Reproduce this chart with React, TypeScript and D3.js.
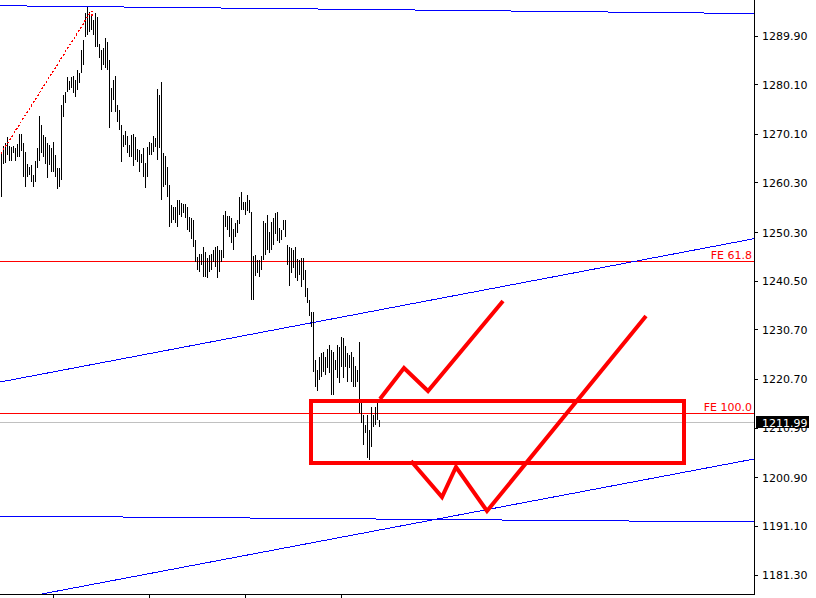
import React from "react";
import * as d3 from "d3";

// ---- data ----
const highs = [
  1266.5, 1267.7, 1268.3, 1269.5, 1267.7, 1267.5, 1267.7, 1267.3, 1268.1, 1270.2,
  1270.2, 1268.3, 1266.5, 1264.1, 1263.5, 1263.9, 1261.9, 1264.7, 1267.3, 1273.8,
  1272.0, 1270.0, 1269.5, 1268.3, 1267.9, 1267.3, 1268.5, 1265.9, 1263.3, 1263.3,
  1276.0, 1278.0, 1278.6, 1281.6, 1280.8, 1281.6, 1281.8, 1281.0, 1283.0, 1282.4,
  1287.1, 1289.1, 1294.5, 1295.7, 1294.7, 1294.1, 1293.1, 1294.5, 1293.7, 1288.3,
  1287.1, 1287.5, 1289.5, 1288.7, 1285.1, 1279.4, 1281.0, 1281.8, 1276.0, 1275.0,
  1272.0, 1270.0, 1270.8, 1269.7, 1267.9, 1270.0, 1270.2, 1269.5, 1267.1, 1266.9,
  1266.1, 1267.3, 1264.3, 1267.5, 1268.5, 1268.3, 1269.7, 1269.3, 1279.2, 1278.0,
  1280.6, 1266.3, 1265.7, 1263.5, 1259.9, 1255.8, 1255.4, 1255.4, 1256.9, 1256.9,
  1256.2, 1256.0, 1256.0, 1255.4, 1253.4, 1253.2, 1252.8, 1248.8, 1245.4, 1246.0,
  1246.0, 1247.4, 1246.4, 1245.2, 1245.8, 1246.0, 1246.8, 1247.4, 1247.6, 1246.8,
  1246.8, 1253.8, 1254.6, 1253.6, 1253.6, 1253.2, 1251.0, 1252.2, 1252.8, 1257.5,
  1258.5, 1256.4, 1256.4, 1257.9, 1256.9, 1254.4, 1245.6, 1245.8, 1244.8, 1244.8,
  1245.6, 1252.6, 1252.2, 1253.8, 1250.4, 1252.4, 1253.2, 1254.2, 1254.4, 1251.2,
  1250.8, 1252.8, 1252.8, 1247.8, 1247.4, 1247.2, 1246.8, 1247.4, 1245.0, 1244.8,
  1245.2, 1245.2, 1242.7, 1239.1, 1236.7, 1234.3, 1234.3, 1224.6, 1222.6, 1225.2,
  1226.0, 1226.2, 1225.2, 1226.8, 1227.6, 1226.6, 1226.2, 1224.6, 1227.6, 1227.2,
  1229.2, 1229.0, 1227.4, 1226.0, 1225.6, 1226.2, 1225.2, 1223.4, 1222.6, 1228.2,
  1215.9, 1213.5, 1211.5, 1213.5, 1210.5, 1215.1, 1213.5, 1215.1, 1215.9, 1212.5,
];
const lows = [
  1257.5, 1264.1, 1264.3, 1265.9, 1264.7, 1264.7, 1266.3, 1264.7, 1265.5, 1265.5,
  1266.7, 1261.5, 1259.5, 1261.5, 1261.9, 1260.5, 1259.5, 1260.5, 1263.3, 1264.7,
  1266.3, 1265.5, 1264.1, 1261.3, 1263.9, 1262.5, 1262.5, 1261.5, 1259.1, 1259.5,
  1260.9, 1273.6, 1276.4, 1278.6, 1279.0, 1279.4, 1278.4, 1277.6, 1279.0, 1280.4,
  1282.4, 1284.1, 1289.7, 1290.1, 1290.7, 1291.1, 1290.1, 1287.7, 1287.7, 1285.5,
  1283.0, 1284.1, 1283.5, 1283.0, 1271.4, 1274.6, 1277.0, 1274.6, 1272.6, 1271.0,
  1264.5, 1267.5, 1267.9, 1266.3, 1265.5, 1265.5, 1263.7, 1264.9, 1264.5, 1262.5,
  1264.3, 1261.5, 1259.3, 1261.5, 1265.9, 1265.9, 1266.5, 1267.5, 1264.9, 1267.3,
  1256.9, 1259.5, 1259.9, 1257.5, 1251.4, 1252.2, 1252.8, 1252.2, 1251.4, 1253.8,
  1253.4, 1254.2, 1253.2, 1250.8, 1250.4, 1249.0, 1247.4, 1244.4, 1242.7, 1242.3,
  1243.7, 1241.3, 1241.3, 1241.1, 1242.3, 1242.7, 1244.4, 1243.3, 1241.1, 1242.3,
  1244.4, 1245.2, 1251.4, 1250.8, 1249.4, 1248.2, 1246.8, 1249.4, 1250.2, 1252.0,
  1254.8, 1254.8, 1253.8, 1254.6, 1254.2, 1236.7, 1236.7, 1241.5, 1242.1, 1241.3,
  1242.7, 1244.8, 1245.8, 1246.8, 1246.2, 1246.8, 1247.8, 1250.0, 1248.6, 1248.2,
  1248.8, 1250.8, 1249.4, 1243.7, 1239.5, 1242.1, 1243.1, 1241.1, 1240.5, 1241.7,
  1239.3, 1240.7, 1237.3, 1236.1, 1233.5, 1231.3, 1222.2, 1219.2, 1218.4, 1220.6,
  1221.2, 1222.2, 1221.6, 1223.0, 1222.0, 1217.6, 1217.6, 1222.6, 1221.0, 1220.0,
  1223.2, 1221.0, 1223.2, 1220.2, 1223.0, 1220.2, 1219.2, 1219.2, 1220.2, 1213.9,
  1211.9, 1207.5, 1209.9, 1204.9, 1204.5, 1207.1, 1211.1, 1211.5, 1212.5, 1211.1,
];

const priceTicks = [1289.9, 1280.1, 1270.1, 1260.3, 1250.3, 1240.5, 1230.7, 1220.7, 1210.9, 1200.9, 1191.1, 1181.3];
const timeTickBars = [26, 74, 122, 170];
const currentPrice = 1211.99;

const feLabels = ["FE 61.8", "FE 100.0"];
const fePrices = [1244.56, 1213.74];

// blue trend lines: [bar1, price1, bar2, price2]
const trendLines = [
  [-0.5, 1296.0, 376.5, 1294.43],
  [-0.5, 1220.18, 376.5, 1249.06],
  [-0.5, 1175.88, 376.5, 1204.67],
  [-0.5, 1193.18, 376.5, 1191.98],
];

// dotted fibo expansion leg
const fiboLegBars = [0, 45, 45.5, 45.5];
const fiboLegPrices = [1266.22, 1294.84, 1294.84, 1293.8];

// hand-drawn red annotations
const boxBars = [155, 341.5];
const boxPrices = [1216.36, 1203.96];
const path1Bars = [189.5, 201.5, 213.5, 251];
const path1Prices = [1216.76, 1223.0, 1218.37, 1236.5];
const path2Bars = [205, 220.5, 227.5, 243, 322.5];
const path2Prices = [1204.27, 1197.01, 1203.06, 1194.19, 1233.48];

const W = 816;
const H = 598;
const PR = 754; // plot right
const PB = 594; // plot bottom

export default function App() {
  const x = d3.scaleLinear().domain([-0.5, 376.5]).range([0, PR]);
  const y = d3.scaleLinear().domain([1181.3, 1289.9]).range([575, 36]);
  const fmt = d3.format(".2f");
  const crisp = (v: number) => Math.floor(v) + 0.5;
  const font = "'DejaVu Sans', Verdana, sans-serif";

  const line = d3
    .line<[number, number]>()
    .x((d) => x(d[0]))
    .y((d) => y(d[1]));

  const p1 = line(path1Bars.map((b, k) => [b, path1Prices[k]] as [number, number]));
  const p2 = line(path2Bars.map((b, k) => [b, path2Prices[k]] as [number, number]));
  const fibo = line(fiboLegBars.map((b, k) => [b, fiboLegPrices[k]] as [number, number]));

  return (
    <svg
      width={W}
      height={H}
      style={{ position: "absolute", left: 0, top: 0, background: "#fff" }}
    >
      <defs>
        <clipPath id="plot">
          <rect x={0} y={0} width={PR} height={PB} />
        </clipPath>
      </defs>
      <rect x={0} y={0} width={W} height={H} fill="#fff" />

      <g clipPath="url(#plot)">
        {/* current price line */}
        <rect x={0} width={PR} y={Math.floor(y(currentPrice))} height={1} fill="#c0c0c0" shapeRendering="crispEdges" />

        {/* FE levels */}
        {fePrices.map((p, k) => (
          <rect key={"fe" + k} x={0} width={PR} y={Math.floor(y(p))} height={1} fill="#ff0000" shapeRendering="crispEdges" />
        ))}

        {/* trend lines */}
        {trendLines.map((t, k) => (
          <line
            key={"tl" + k}
            x1={x(t[0])}
            y1={y(t[1])}
            x2={x(t[2])}
            y2={y(t[3])}
            stroke="#0000ff"
            strokeWidth={1}
            shapeRendering="crispEdges"
          />
        ))}

        {/* bars */}
        {highs.map((h, i) => (
          <rect
            key={"b" + i}
            x={x(i)}
            y={y(h)}
            width={1}
            height={Math.max(1, y(lows[i]) - y(h))}
            fill="#000"
            shapeRendering="crispEdges"
          />
        ))}

        {/* dotted fibo leg */}
        <path d={fibo || ""} fill="none" stroke="#ff0000" strokeWidth={1.3} strokeDasharray="2,2" shapeRendering="crispEdges" />

        {/* red annotations */}
        <rect
          x={x(boxBars[0])}
          y={y(boxPrices[0])}
          width={x(boxBars[1]) - x(boxBars[0])}
          height={y(boxPrices[1]) - y(boxPrices[0])}
          fill="none"
          stroke="#ff0000"
          strokeWidth={4}
          shapeRendering="crispEdges"
        />
        <path d={p1 || ""} fill="none" stroke="#ff0000" strokeWidth={4} />
        <path d={p2 || ""} fill="none" stroke="#ff0000" strokeWidth={4} />

        {/* FE labels */}
        {fePrices.map((p, k) => (
          <text
            key={"fel" + k}
            x={752}
            y={Math.floor(y(p)) - 2}
            textAnchor="end"
            fontFamily={font}
            fontSize={11}
            fill="#ff0000"
          >
            {feLabels[k]}
          </text>
        ))}
      </g>

      {/* axes frame */}
      <rect x={PR} y={0} width={1} height={PB + 1} fill="#000" shapeRendering="crispEdges" />
      <rect x={0} y={PB} width={PR + 1} height={1} fill="#000" shapeRendering="crispEdges" />

      {/* price axis */}
      {priceTicks.map((p, k) => (
        <g key={"pt" + k}>
          <rect x={PR + 1} width={3} y={Math.floor(y(p))} height={1} fill="#000" shapeRendering="crispEdges" />
          <text x={762} y={y(p)} dy="0.36em" fontFamily={font} fontSize={11} fill="#000">
            {fmt(p)}
          </text>
        </g>
      ))}

      {/* time axis ticks */}
      {timeTickBars.map((b, k) => (
        <rect key={"tt" + k} x={Math.floor(x(b))} width={1} y={PB} height={H - PB} fill="#000" shapeRendering="crispEdges" />
      ))}

      {/* current price label */}
      <rect x={756} y={Math.floor(y(currentPrice)) - 6} width={53} height={12} fill="#000" />
      <text x={762} y={y(currentPrice)} dy="0.36em" fontFamily={font} fontSize={11} fill="#fff">
        {fmt(currentPrice)}
      </text>
    </svg>
  );
}
